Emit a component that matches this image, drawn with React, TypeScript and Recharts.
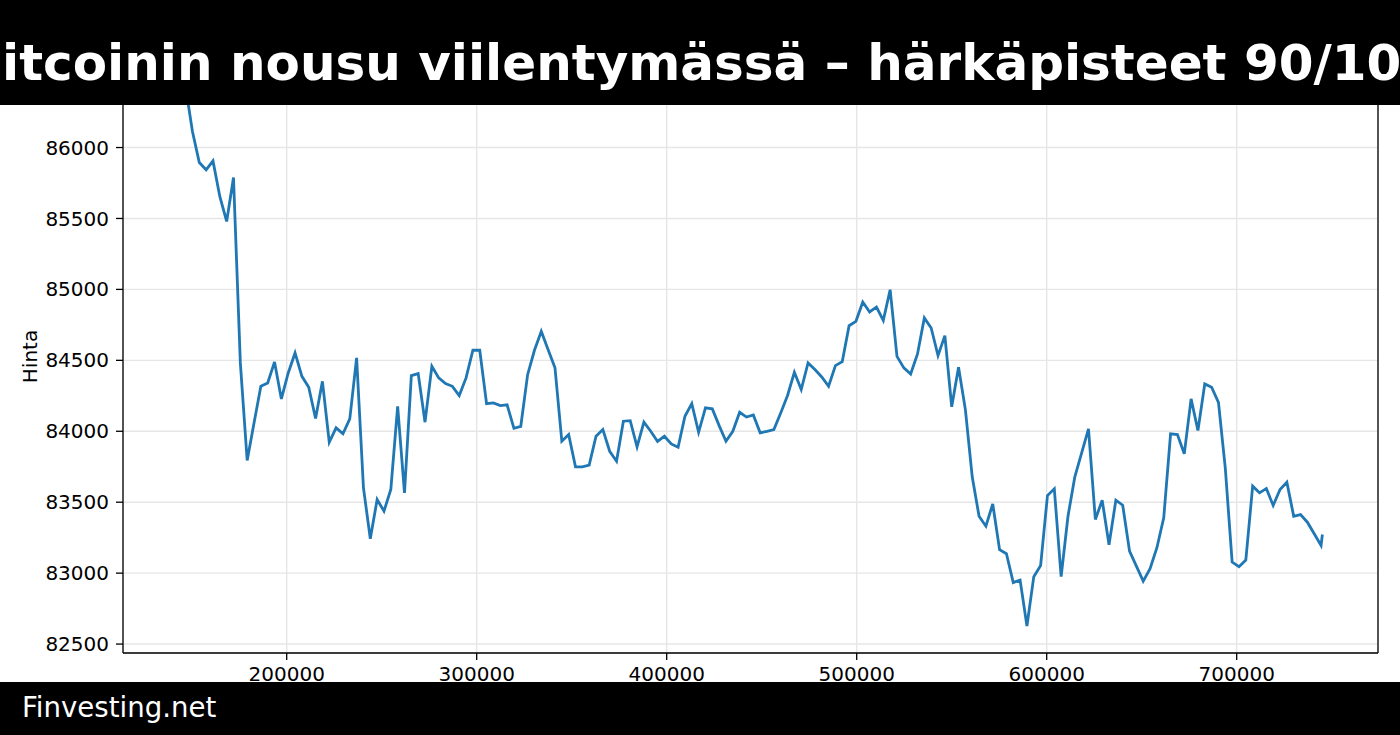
import { LineChart, Line, XAxis, YAxis, CartesianGrid, ReferenceLine } from 'recharts';

// hourly closes; first sample at t = 143200 s, one sample per hour
const START_T = 143200;
const STEP_T = 3600;
const PRICES = [
  86350, 86425, 86113, 85894, 85843, 85906, 85655, 85479, 85789, 84482,
  83794, 84059, 84317, 84341, 84489, 84228, 84411, 84552, 84387, 84310,
  84090, 84352, 83923, 84024, 83982, 84087, 84517, 83601, 83242, 83519,
  83437, 83590, 84176, 83566, 84392, 84406, 84064, 84458, 84376, 84336,
  84317, 84252, 84376, 84571, 84571, 84195, 84200, 84181, 84186, 84021,
  84035, 84399, 84571, 84704, 84575, 84447, 83930, 83977, 83749, 83749,
  83761, 83965, 84012, 83859, 83789, 84071, 84075, 83890, 84064, 84000,
  83928, 83965, 83911, 83887, 84106, 84195, 83993, 84165, 84158, 84040,
  83930, 84000, 84134, 84100, 84115, 83989, 84000, 84012, 84129, 84252,
  84416, 84294, 84482, 84435, 84383, 84317, 84463, 84491, 84744, 84775,
  84911, 84841, 84876, 84782, 84998, 84528, 84447, 84404, 84545, 84799,
  84728, 84533, 84674, 84172, 84451, 84153, 83679, 83401, 83331, 83488,
  83165, 83137, 82933, 82951, 82627, 82975, 83054, 83547, 83594, 82975,
  83401, 83679, 83848, 84017, 83378, 83514, 83200, 83514, 83479, 83155,
  83049, 82944, 83031, 83179, 83390, 83982, 83977, 83841, 84228, 84005,
  84334, 84310, 84204, 83740, 83078, 83045, 83092, 83613, 83566, 83596,
  83477, 83590, 83641, 83401, 83413, 83359, 83277, 83195,
];
// latest (partial hour) quote
const LAST_T = 745100;
const LAST_PRICE = 83272;

const X_TICKS = [200000, 300000, 400000, 500000, 600000, 700000];
const Y_TICKS = [82500, 83000, 83500, 84000, 84500, 85000, 85500, 86000];
const X_DOMAIN: [number, number] = [113842, 774368];
const Y_DOMAIN: [number, number] = [82437, 86617];

const TITLE = 'Bitcoinin nousu viilentymässä – härkäpisteet 90/100';
const SOURCE = 'Finvesting.net';
const Y_LABEL = 'Hinta';

const data = [
  ...PRICES.map((price, i) => ({ t: START_T + i * STEP_T, price })),
  { t: LAST_T, price: LAST_PRICE },
];

function YLabel(props: any) {
  const vb = props.viewBox;
  const cy = vb ? vb.y + vb.height / 2 : 356;
  return (
    <text x={37} y={cy} transform={`rotate(-90 37 ${cy})`} textAnchor="middle" fontSize={20} fill="#000">
      {Y_LABEL}
    </text>
  );
}

export default function App() {
  return (
    <div
      style={{
        position: 'absolute',
        left: 0,
        top: 0,
        width: 1400,
        height: 735,
        background: '#fff',
        overflow: 'hidden',
        fontFamily: '"DejaVu Sans", sans-serif',
      }}
    >
      <LineChart width={1400} height={735} data={data} margin={{ top: 60, right: 22, bottom: 52, left: 63 }}>
        <CartesianGrid stroke="#e6e6e6" strokeWidth={1.4} />
        <XAxis
          dataKey="t"
          type="number"
          domain={X_DOMAIN}
          ticks={X_TICKS}
          interval={0}
          allowDataOverflow
          height={30}
          tickSize={7}
          tickMargin={7}
          tick={{ fontSize: 20, fill: '#000' }}
          tickFormatter={(v) => String(v)}
          axisLine={{ stroke: '#000', strokeWidth: 1.3 }}
          tickLine={{ stroke: '#000', strokeWidth: 1.3 }}
        />
        <YAxis
          type="number"
          domain={Y_DOMAIN}
          ticks={Y_TICKS}
          interval={0}
          allowDataOverflow
          width={60}
          tickSize={7}
          tickMargin={7}
          tick={{ fontSize: 20, fill: '#000' }}
          tickFormatter={(v) => String(v)}
          axisLine={{ stroke: '#000', strokeWidth: 1.3 }}
          tickLine={{ stroke: '#000', strokeWidth: 1.3 }}
          label={<YLabel />}
        />
        <ReferenceLine x={X_DOMAIN[1]} stroke="#000" strokeWidth={1.3} />
        <Line
          type="linear"
          dataKey="price"
          stroke="#1f77b4"
          strokeWidth={2.8}
          dot={false}
          isAnimationActive={false}
        />
      </LineChart>
      <svg
        width={1400}
        height={735}
        style={{ position: 'absolute', left: 0, top: 0, pointerEvents: 'none' }}
      >
        <rect x={0} y={0} width={1400} height={105} fill="#000" />
        <text x={700} y={80} textAnchor="middle" fontSize={50} fontWeight="bold" fill="#fff">
          {TITLE}
        </text>
        <rect x={0} y={682} width={1400} height={53} fill="#000" />
        <text x={22} y={717} fontSize={27.6} fill="#fff">
          {SOURCE}
        </text>
      </svg>
    </div>
  );
}
